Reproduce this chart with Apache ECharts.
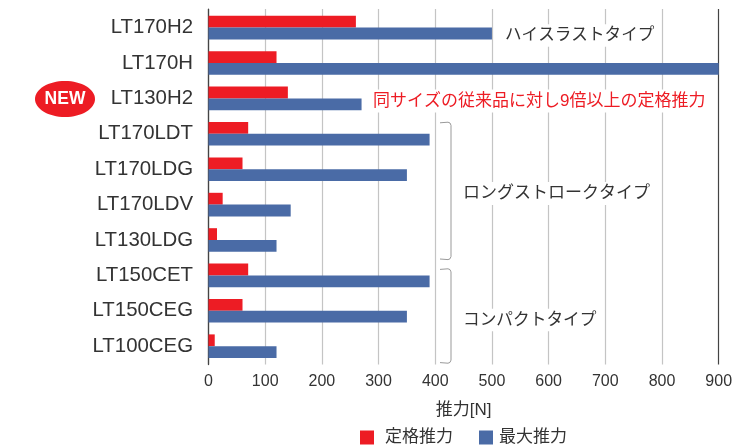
<!DOCTYPE html>
<html>
<head>
<meta charset="utf-8">
<script src="https://cdn.jsdelivr.net/npm/echarts@6/dist/echarts.min.js"></script>
<style>
html, body { margin: 0; padding: 0; background: #fff; }
#main { width: 756px; height: 448px; }
</style>
</head>
<body>
<div id="main"></div>
<script>
var models = ['LT170H2', 'LT170H', 'LT130H2', 'LT170LDT', 'LT170LDG', 'LT170LDV', 'LT130LDG', 'LT150CET', 'LT150CEG', 'LT100CEG'];
var ratedThrust = [260, 120, 140, 70, 60, 25, 15, 70, 60, 11];
var maxThrust = [500, 900, 270, 390, 350, 145, 120, 390, 350, 120];
var seriesNames = ['定格推力', '最大推力'];
var axisName = '推力[N]';

var red = '#ed1c24';
var blue = '#4a6ba6';
var textColor = '#333333';
var pFont = '"Liberation Sans", "Noto Sans CJK JP", sans-serif';

var myChart = echarts.init(document.getElementById('main'), null, { renderer: 'canvas' });

function note(text, x, y, size, color) {
    return {
        type: 'text',
        x: x,
        y: y,
        z: 10,
        style: {
            text: text,
            fill: color,
            font: size + 'px ' + pFont,
            verticalAlign: 'middle',
            backgroundColor: '#fff',
            padding: [3, 0, 3, 0]
        }
    };
}

function bracket(top, bottom) {
    return {
        type: 'polyline',
        z: 10,
        shape: {
            points: [
                [440, top], [448, top - 0.6], [450, top + 0.2], [451, top + 2.5],
                [451, bottom - 2.5], [450, bottom - 0.2], [448, bottom + 0.6], [440, bottom]
            ]
        },
        style: { fill: 'none', stroke: '#999999', lineWidth: 1 }
    };
}

var option = {
    animation: false,
    textStyle: { fontFamily: pFont },
    legend: {
        left: 360,
        top: 429,
        itemWidth: 14,
        itemHeight: 14,
        itemGap: 26,
        padding: 0,
        icon: 'rect',
        data: [
            { name: seriesNames[0], textStyle: { padding: [0, 0, 0, 6] } },
            { name: seriesNames[1], textStyle: { padding: [0, 0, 0, 1] } }
        ],
        textStyle: { color: textColor, fontSize: 17, fontFamily: pFont }
    },
    // the first grid carries the frame and ticks, the second one the bars
    grid: [
        { left: 208.5, top: 9, width: 510.2, height: 355.6 },
        { left: 208.5, top: 9.9, width: 510.2, height: 354 }
    ],
    xAxis: [
        {
            type: 'value',
            gridIndex: 0,
            min: 0,
            max: 900,
            interval: 100,
            name: axisName,
            nameLocation: 'middle',
            nameGap: 37,
            nameTextStyle: { color: textColor, fontSize: 17, fontFamily: pFont },
            axisLine: { show: false },
            axisTick: { show: false },
            axisLabel: { color: textColor, fontSize: 16, margin: 9, fontFamily: pFont },
            splitLine: {
                show: true,
                showMinLine: true,
                showMaxLine: true,
                lineStyle: {
                    width: 1.2,
                    color: ['#444444', '#c4c4c4', '#c4c4c4', '#c4c4c4', '#c4c4c4', '#c4c4c4', '#c4c4c4', '#c4c4c4', '#c4c4c4', '#444444']
                }
            }
        },
        {
            type: 'value',
            gridIndex: 1,
            min: 0,
            max: 900,
            interval: 100,
            show: false
        }
    ],
    yAxis: [
        {
            type: 'value',
            gridIndex: 0,
            min: 0,
            max: 1,
            axisLine: { show: true, onZero: false, lineStyle: { color: '#444444', width: 1.2 } },
            axisTick: { show: false },
            axisLabel: { show: false },
            splitLine: { show: false }
        },
        {
            type: 'category',
            gridIndex: 1,
            inverse: true,
            data: models,
            axisLine: { show: false },
            axisTick: { show: false },
            axisLabel: { color: textColor, fontSize: 20.4, margin: 15.5, fontFamily: pFont, padding: [7, 0, 0, 0] }
        }
    ],
    series: [
        {
            name: seriesNames[0],
            type: 'bar',
            xAxisIndex: 1,
            yAxisIndex: 1,
            data: ratedThrust,
            barWidth: 11.8,
            barGap: 0,
            itemStyle: { color: red }
        },
        {
            name: seriesNames[1],
            type: 'bar',
            xAxisIndex: 1,
            yAxisIndex: 1,
            data: maxThrust,
            barWidth: 11.8,
            barGap: 0,
            itemStyle: { color: blue }
        }
    ],
    graphic: [
        {
            type: 'ellipse',
            z: 10,
            shape: { cx: 65, cy: 99, rx: 30, ry: 18 },
            style: { fill: red }
        },
        {
            type: 'text',
            z: 11,
            x: 65,
            y: 99,
            style: {
                text: 'NEW',
                fill: '#fff',
                font: 'bold 17.5px ' + pFont,
                align: 'center',
                verticalAlign: 'middle'
            }
        },
        note('ハイスラストタイプ', 505, 35.5, 16.6, textColor),
        note('同サイズの従来品に対し9倍以上の定格推力', 373, 101, 17, red),
        note('ロングストロークタイプ', 463, 193.5, 17, textColor),
        note('コンパクトタイプ', 463, 320, 16.7, textColor),
        bracket(122.8, 259),
        bracket(269.4, 362.6)
    ]
};

myChart.setOption(option);
</script>
</body>
</html>
